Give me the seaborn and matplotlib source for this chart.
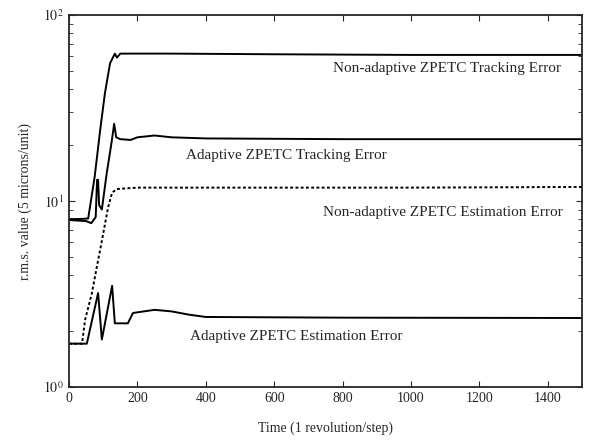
import numpy as np
import pandas as pd
import matplotlib
matplotlib.use("Agg")
import matplotlib.pyplot as plt
import seaborn as sns

# ---- data ----
nat_x = [0, 30, 56, 75, 91, 105, 120, 134, 140, 150, 300, 600, 1000, 1500]
nat_y = [8.0, 8.0, 8.05, 13.5, 24, 38, 55, 62, 59, 62, 62, 61.5, 61, 61]

at_x = [0, 50, 65, 78, 82, 85, 88, 96, 110, 125, 132, 138, 150, 180, 200, 250, 300, 400, 800, 1500]
at_y = [7.9, 7.8, 7.6, 8.2, 13, 13, 9.5, 9.0, 14, 21, 26, 22, 21.5, 21.3, 22, 22.5, 22, 21.7, 21.5, 21.5]

ne_x = [0, 38, 47, 67, 82, 96, 114, 126, 140, 200, 600, 1000, 1500]
ne_y = [1.71, 1.71, 2.3, 3.2, 4.5, 6.1, 9.2, 11.1, 11.6, 11.8, 11.8, 11.8, 11.9]

ae_x = [0, 52, 85, 96, 126, 134, 172, 187, 250, 300, 350, 400, 800, 1500]
ae_y = [1.71, 1.71, 3.2, 1.8, 3.5, 2.2, 2.2, 2.5, 2.6, 2.55, 2.45, 2.38, 2.36, 2.35]

labels = ["Non-adaptive ZPETC Tracking Error", "Adaptive ZPETC Tracking Error",
          "Non-adaptive ZPETC Estimation Error", "Adaptive ZPETC Estimation Error"]

frames = []
for name, xs, ys in zip(labels, [nat_x, at_x, ne_x, ae_x], [nat_y, at_y, ne_y, ae_y]):
    frames.append(pd.DataFrame({"t": xs, "v": ys, "series": name}))
df = pd.concat(frames, ignore_index=True)

sns.set_style("ticks")
plt.rcParams["font.family"] = ["Liberation Serif", "DejaVu Serif"]
plt.rcParams["mathtext.fontset"] = "stix"

fig = plt.figure(figsize=(5.92, 4.41), dpi=100)
ax = fig.add_axes([0.1166, 0.1224, 0.8664, 0.8436])

sns.lineplot(data=df, x="t", y="v", hue="series", style="series",
             palette=["black"] * 4,
             dashes={labels[0]: "", labels[1]: "", labels[2]: (1.5, 1.2), labels[3]: ""},
             linewidth=1.4, legend=False, ax=ax, sort=False, estimator=None)

ax.set_yscale("log")
ax.set_ylim(1, 100)
ax.set_xlim(0, 1500)
ax.set_xticks([0, 200, 400, 600, 800, 1000, 1200, 1400])
ax.set_yticks([1, 10, 100])
ax.set_yticklabels([r"$10^{0}$", r"$10^{1}$", r"$10^{2}$"])
ax.tick_params(direction="in", which="both", top=True, right=True, labelsize=10)
ax.tick_params(which="major", length=4)
ax.tick_params(which="minor", length=3)
for s in ax.spines.values():
    s.set_linewidth(1.3)
    s.set_visible(True)

ax.set_xlabel("Time (1 revolution/step)", fontsize=10, labelpad=12)
ax.set_ylabel("r.m.s. value (5 microns/unit)", fontsize=10, labelpad=8)

fs = 11
ax.text(1105, 51.8, labels[0], fontsize=fs, ha="center", va="center")
ax.text(637, 17.6, labels[1], fontsize=fs, ha="center", va="center")
ax.text(1094, 8.67, labels[2], fontsize=fs, ha="center", va="center")
ax.text(664, 1.86, labels[3], fontsize=fs, ha="center", va="center")

fig.savefig("out.png", dpi=100)
